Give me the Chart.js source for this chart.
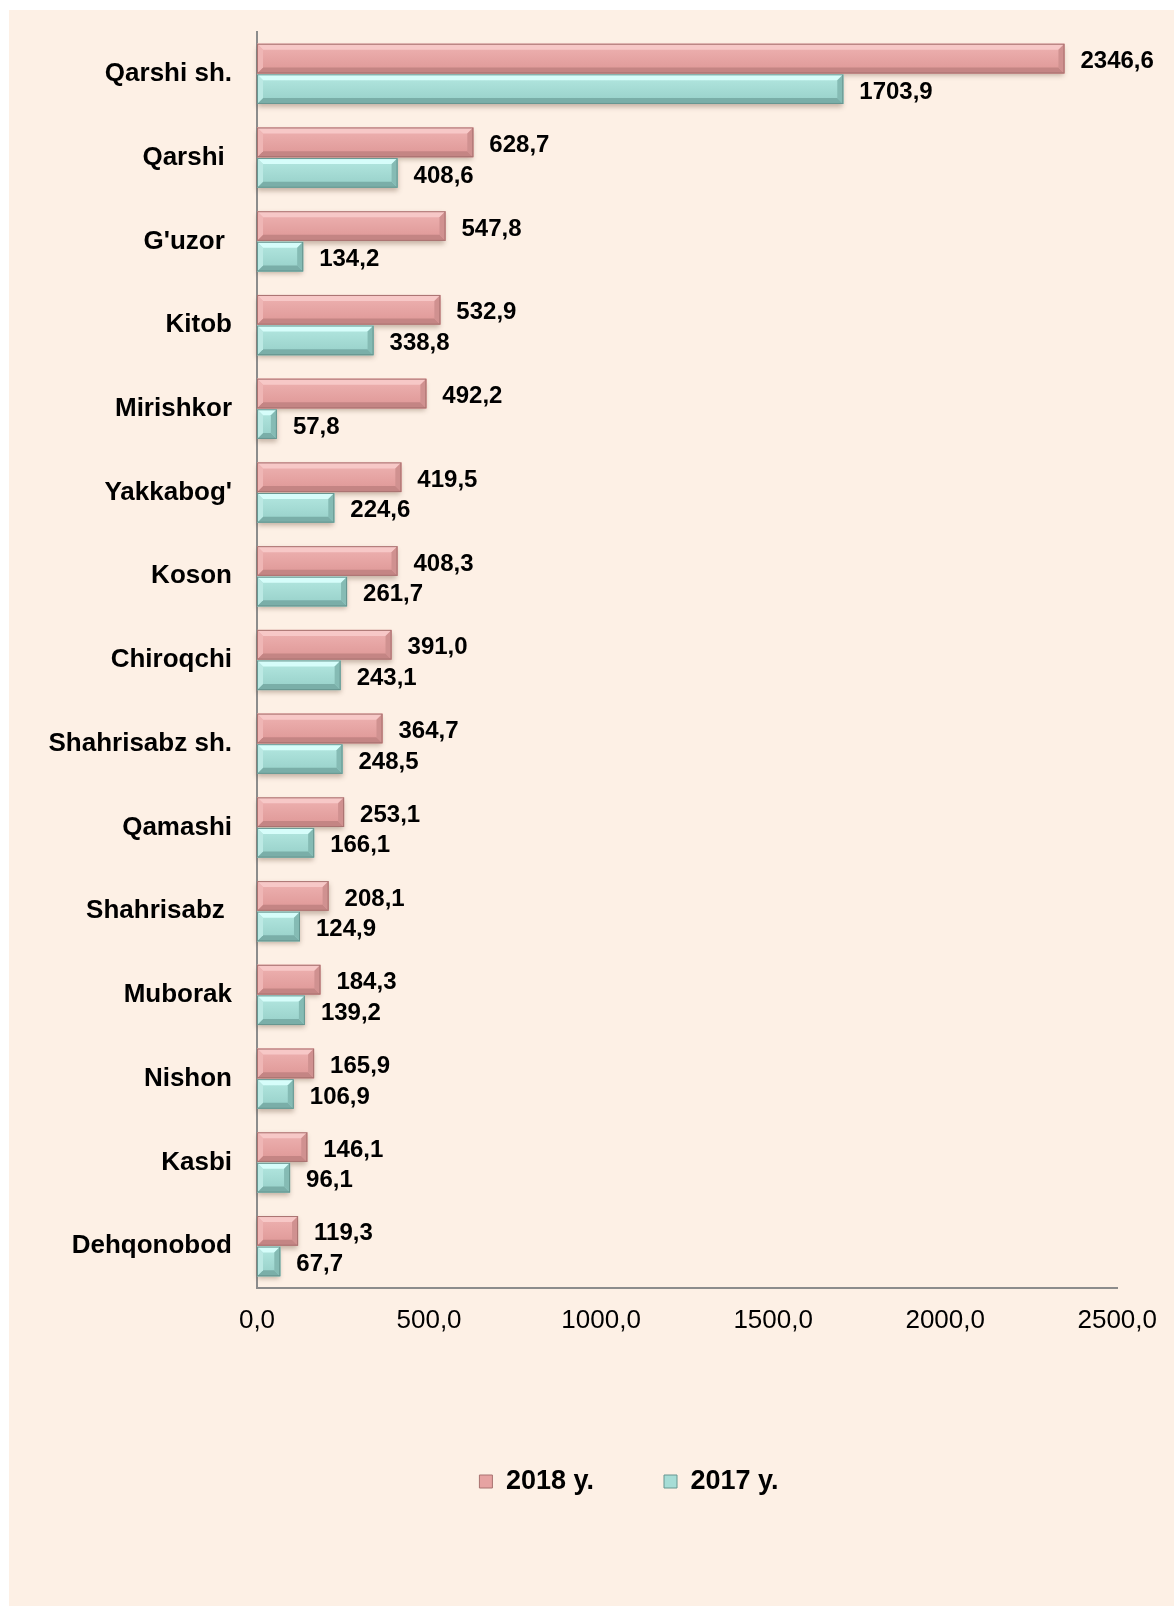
<!DOCTYPE html>
<html>
<head>
<meta charset="utf-8">
<style>
  html, body { margin: 0; padding: 0; background: #ffffff; }
  canvas { display: block; }
</style>
<script src="https://cdn.jsdelivr.net/npm/chart.js@4"></script>
</head>
<body>
<canvas id="myChart" width="1174" height="1606"></canvas>
<script>
const districts = ["Qarshi sh.", "Qarshi ", "G'uzor ", "Kitob", "Mirishkor", "Yakkabog'", "Koson",
  "Chiroqchi", "Shahrisabz sh.", "Qamashi", "Shahrisabz ", "Muborak", "Nishon", "Kasbi", "Dehqonobod"];
const values2018 = [2346.6, 628.7, 547.8, 532.9, 492.2, 419.5, 408.3, 391.0, 364.7, 253.1, 208.1, 184.3, 165.9, 146.1, 119.3];
const values2017 = [1703.9, 408.6, 134.2, 338.8, 57.8, 224.6, 261.7, 243.1, 248.5, 166.1, 124.9, 139.2, 106.9, 96.1, 67.7];
const seriesNames = ["2018 y.", "2017 y."];
const xTicks = [0, 500, 1000, 1500, 2000, 2500];

const FONT = "'Liberation Sans', Arial, sans-serif";

// colours for the bevelled bars
const shades = [
  { top: "#f7c8c7", c1: "#ebadac", c2: "#e19c9b", left: "#efb6b5", right: "#d09190", bottom: "#c48584", edge: "#a97371" },
  { top: "#d6fdfa", c1: "#aee3dc", c2: "#9cd4cd", left: "#bce9e4", right: "#85bbb4", bottom: "#7aaea8", edge: "#679690" },
];

const fmt = (v) => v.toFixed(1).replace(".", ",");

// beige panel behind the chart
const panel = {
  id: "panel",
  beforeDraw(chart) {
    const c = chart.ctx;
    c.save();
    c.fillStyle = "#ffffff";
    c.fillRect(0, 0, chart.width, chart.height);
    c.fillStyle = "#fdf0e5";
    c.fillRect(9, 10, chart.width - 9, chart.height - 10);
    c.restore();
  },
  afterLayout(chart) {
    // let the long category names draw left of the axis box
    chart.scales.y.left = 0;
  },
};

function quad(c, pts, color) {
  c.fillStyle = color;
  c.beginPath();
  c.moveTo(pts[0], pts[1]);
  for (let k = 2; k < pts.length; k += 2) c.lineTo(pts[k], pts[k + 1]);
  c.closePath();
  c.fill();
}

function bevelBar(c, x0, x1, yT, yB, s) {
  const w = x1 - x0, h = yB - yT;
  if (w <= 0) return;
  const b = Math.min(6, w / 2, h / 2);
  c.save();
  c.shadowColor = "rgba(90,60,40,0.35)";
  c.shadowBlur = 5;
  c.shadowOffsetY = 3;
  c.fillStyle = s.c2;
  c.fillRect(x0, yT, w, h);
  c.restore();

  const g = c.createLinearGradient(0, yT + b, 0, yB - b);
  g.addColorStop(0, s.c1);
  g.addColorStop(1, s.c2);
  c.fillStyle = g;
  c.fillRect(x0, yT, w, h);

  quad(c, [x0, yT, x1, yT, x1 - b, yT + b, x0 + b, yT + b], s.top);
  quad(c, [x0, yB, x1, yB, x1 - b, yB - b, x0 + b, yB - b], s.bottom);
  quad(c, [x0, yT, x0 + b, yT + b, x0 + b, yB - b, x0, yB], s.left);
  quad(c, [x1, yT, x1 - b, yT + b, x1 - b, yB - b, x1, yB], s.right);

  c.strokeStyle = s.edge;
  c.lineWidth = 1;
  c.strokeRect(x0 + 0.5, yT + 0.5, w - 1, h - 1);
}

const bars3d = {
  id: "bars3d",
  afterDatasetsDraw(chart) {
    const c = chart.ctx;
    chart.data.datasets.forEach((ds, i) => {
      const meta = chart.getDatasetMeta(i);
      meta.data.forEach((el) => {
        const p = el.getProps(["x", "y", "base", "height"], true);
        bevelBar(c, Math.min(p.base, p.x), Math.max(p.base, p.x), p.y - p.height / 2, p.y + p.height / 2, shades[i]);
      });
    });
    // value labels
    c.save();
    c.fillStyle = "#000000";
    c.font = "bold 24px " + FONT;
    c.textAlign = "left";
    c.textBaseline = "middle";
    chart.data.datasets.forEach((ds, i) => {
      const meta = chart.getDatasetMeta(i);
      meta.data.forEach((el, j) => {
        const p = el.getProps(["x", "y"], true);
        c.fillText(fmt(ds.data[j]), p.x + 16, p.y + 3);
      });
    });
    c.restore();
  },
};

const ctx = document.getElementById("myChart").getContext("2d");

const myChart = new Chart(ctx, {
  type: "bar",
  data: {
    labels: districts,
    datasets: [
      {
        label: seriesNames[0],
        data: values2018,
        backgroundColor: "#e6a3a2",
        borderColor: "#a97371",
        borderWidth: 1,
        categoryPercentage: 0.73,
        barPercentage: 0.97,
      },
      {
        label: seriesNames[1],
        data: values2017,
        backgroundColor: "#a6ddd6",
        borderColor: "#679690",
        borderWidth: 1,
        categoryPercentage: 0.73,
        barPercentage: 0.97,
      },
    ],
  },
  options: {
    indexAxis: "y",
    responsive: false,
    animation: false,
    devicePixelRatio: 1,
    layout: {
      padding: { left: 138, right: 54, top: 32, bottom: 101 },
    },
    scales: {
      x: {
        min: 0,
        max: 2500,
        afterBuildTicks: (scale) => {
          scale.ticks = xTicks.map((v) => ({ value: v }));
        },
        afterFit: (scale) => {
          scale.height = 110;
        },
        grid: { display: false, drawTicks: false },
        border: { display: true, color: "#8c8c8c", width: 2 },
        ticks: {
          color: "#000000",
          padding: 17,
          maxRotation: 0,
          font: { family: FONT, size: 26 },
          callback: (v) => fmt(v),
        },
      },
      y: {
        afterFit: (scale) => {
          scale.width = 119;
          scale.paddingTop = 0;
          scale.paddingBottom = 0;
        },
        grid: { display: false, drawTicks: false },
        border: { display: true, color: "#8c8c8c", width: 2 },
        ticks: {
          color: "#000000",
          padding: 25,
          font: { family: FONT, size: 26, weight: "bold" },
        },
      },
    },
    plugins: {
      legend: {
        position: "bottom",
        labels: {
          color: "#000000",
          boxWidth: 13,
          boxHeight: 13,
          padding: 70,
          font: { family: FONT, size: 27, weight: "bold" },
        },
      },
      tooltip: { enabled: false },
    },
  },
  plugins: [panel, bars3d],
});
</script>
</body>
</html>
